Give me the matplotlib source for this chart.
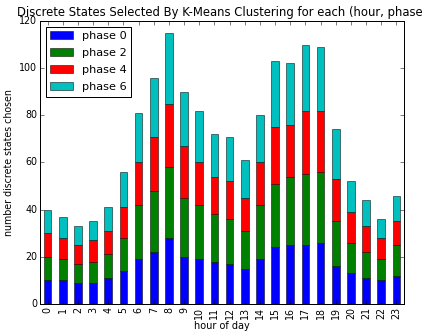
import matplotlib
matplotlib.use("Agg")
import matplotlib.pyplot as plt
import numpy as np

# counts of chosen discrete states, per hour of day and phase
hours = list(range(24))
phase_labels = ['phase 0', 'phase 2', 'phase 4', 'phase 6']

phase0 = [10, 10, 9, 9, 11, 14, 19, 22, 28, 20, 19, 18,
          17, 15, 19, 24, 25, 25, 26, 16, 13, 11, 10, 12]
phase2 = [10, 9, 8, 9, 10, 14, 23, 26, 30, 25, 23, 20,
          19, 16, 23, 27, 29, 30, 30, 19, 13, 11, 9, 13]
phase4 = [10, 9, 8, 9, 10, 13, 18, 23, 27, 22, 18, 16,
          16, 14, 18, 24, 22, 27, 26, 18, 13, 11, 9, 10]
phase6 = [10, 9, 8, 8, 10, 15, 21, 25, 30, 23, 22, 18,
          19, 16, 20, 28, 26, 28, 27, 21, 13, 11, 8, 11]

colors = ['b', 'g', 'r', 'c']

plt.style.use('classic')
fig = plt.figure(figsize=(423 / 72, 333 / 72), dpi=72, facecolor='white')
ax = fig.add_axes([40 / 423, 29 / 333, 364 / 423, 283 / 333])

x = np.arange(len(hours))
bottom = np.zeros(len(hours))
for vals, lab, col in zip([phase0, phase2, phase4, phase6], phase_labels, colors):
    ax.bar(x, vals, 0.5, bottom=bottom, color=col, edgecolor='black',
           linewidth=0.5, label=lab, align='center')
    bottom += np.array(vals)

ax.set_xlim(-0.5, len(hours) - 0.5)
ax.set_ylim(0, 120)
ax.set_xticks(x)
ax.set_xticklabels([str(h) for h in hours], rotation=90, fontsize=9.5)
ax.tick_params(axis='both', labelsize=9.5, pad=3)
ax.set_xlabel('hour of day', fontsize=9.8, labelpad=2)
ax.set_ylabel('number discrete states chosen', fontsize=9.5)
ax.set_title('Discrete States Selected By K-Means Clustering for each (hour, phase)',
             fontsize=11.6)
ax.legend(loc='upper left', fontsize=11.3, fancybox=False, labelspacing=0.62)

fig.savefig('out.png', dpi=72, facecolor='white')
